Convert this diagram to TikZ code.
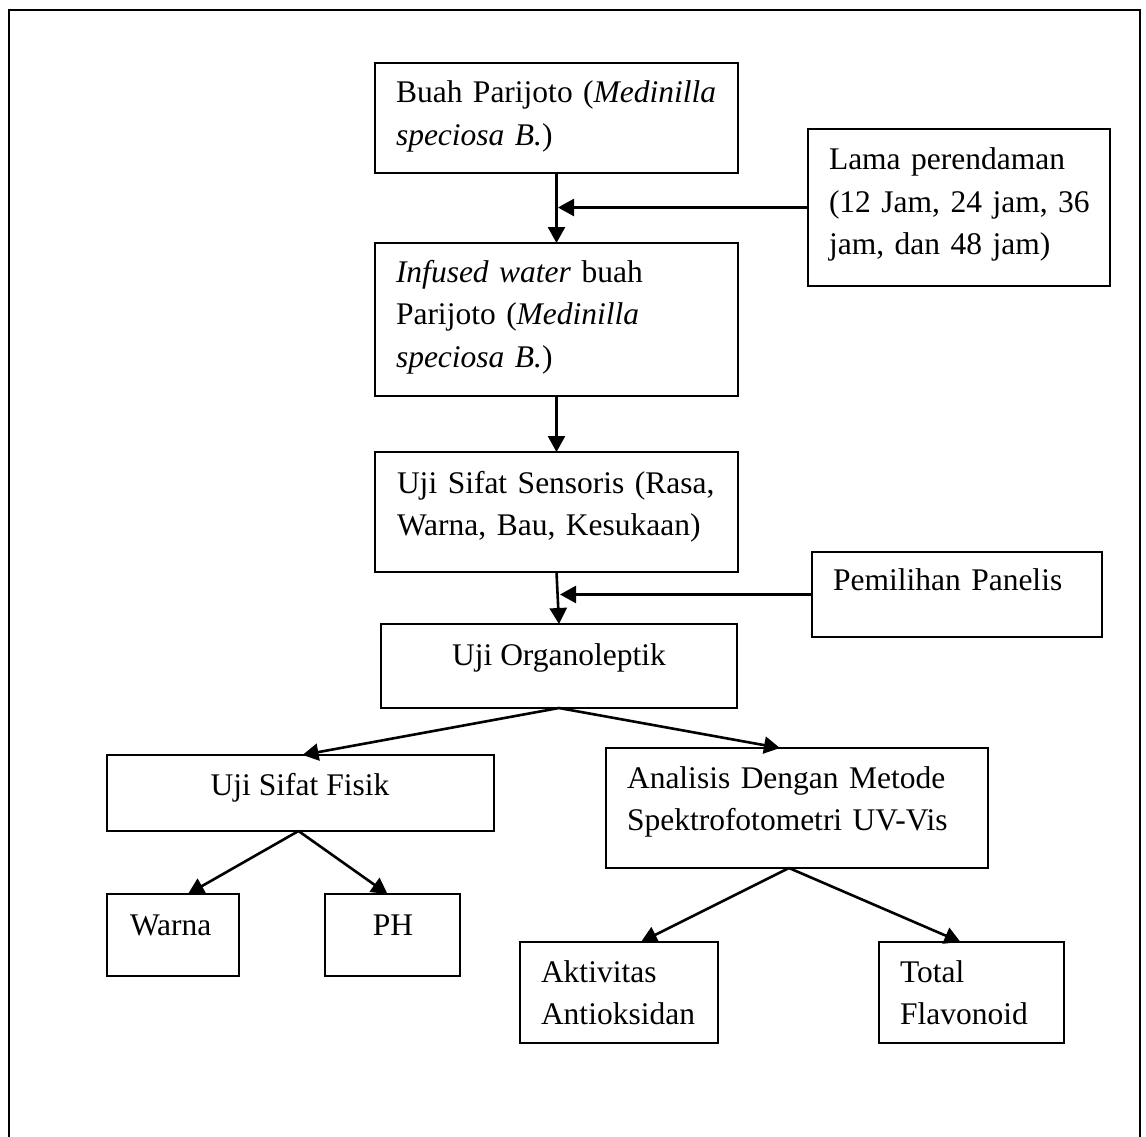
\documentclass[tikz,border=0pt]{standalone}
\usepackage{fontspec}
\setmainfont{Liberation Serif}
\usetikzlibrary{arrows.meta}
\begin{document}
\begin{tikzpicture}[x=1pt,y=-1pt,
  box/.style={draw, line width=1.8pt, inner sep=0pt, outer sep=0pt, anchor=north west},
  txt/.style={inner sep=0pt, outer sep=0pt, anchor=base west, align=left, text width=380pt,
    font=\fontsize{31.5}{42.5}\selectfont},
  ctxt/.style={inner sep=0pt, outer sep=0pt, anchor=base, font=\fontsize{31.5}{42.5}\selectfont},
  arr/.style={line width=2.6pt, -{Triangle[length=16pt,width=17pt]}}]
\useasboundingbox (0,0) rectangle (1146,1137);
% outer frame (bottom edge lies outside the picture)
\draw[line width=1.8pt] (9,1160) -- (9,10) -- (1140,10) -- (1140,1160);
% boxes
\node[box, minimum width=363pt, minimum height=110pt] (b1) at (375,63) {};
\node[box, minimum width=363pt, minimum height=153pt] (b2) at (375,243) {};
\node[box, minimum width=302pt, minimum height=157pt] (lama) at (808,129) {};
\node[box, minimum width=363pt, minimum height=120pt] (b3) at (375,452) {};
\node[box, minimum width=356pt, minimum height=84pt] (b4) at (381,624) {};
\node[box, minimum width=290pt, minimum height=85pt] (pem) at (812,552) {};
\node[box, minimum width=387pt, minimum height=76pt] (fis) at (107,755) {};
\node[box, minimum width=132pt, minimum height=82pt] (warna) at (107,894) {};
\node[box, minimum width=135pt, minimum height=82pt] (ph) at (325,894) {};
\node[box, minimum width=382pt, minimum height=120pt] (ana) at (606,748) {};
\node[box, minimum width=198pt, minimum height=101pt] (akt) at (520,942) {};
\node[box, minimum width=185pt, minimum height=101pt] (tot) at (879,942) {};
% texts
\node[txt] (t1) at (396,103) {Buah Parijoto (\textit{Medinilla}\\\textit{speciosa B.})};
\node[txt] (t2) at (396,282) {\textit{Infused water} buah\\Parijoto (\textit{Medinilla}\\\textit{speciosa B.})};
\node[txt] (tl) at (829,170) {Lama perendaman\\(12 Jam, 24 jam, 36\\jam, dan 48 jam)};
\node[txt] (t3) at (397,493) {Uji Sifat Sensoris (Rasa,\\Warna, Bau, Kesukaan)};
\node[ctxt] (t4) at (559,665) {Uji Organoleptik};
\node[txt] (tp) at (833,590) {Pemilihan Panelis};
\node[ctxt] (tf) at (300,795) {Uji Sifat Fisik};
\node[txt] (tw) at (130,935) {Warna};
\node[ctxt] (th) at (393,935) {PH};
\node[txt] (ta) at (627,788) {Analisis Dengan Metode\\Spektrofotometri UV-Vis};
\node[txt] (tk) at (541,982) {Aktivitas\\Antioksidan};
\node[txt] (tt) at (900,982) {Total\\Flavonoid};
% connectors
\coordinate (j1) at (558,207.5);
\coordinate (j2) at (560,594.5);
\draw[arr] (b1.south) -- (b2.north);
\draw[arr] (lama.west) -- (j1);
\draw[arr] (b2.south) -- (b3.north);
\draw[arr] (b3.south) -- (b4.north);
\draw[arr] (pem.west) -- (j2);
\draw[arr] (b4.south) -- ([xshift=2pt]fis.north);
\draw[arr] (b4.south) -- ([xshift=-17pt]ana.north);
\draw[arr] ([xshift=-2pt]fis.south) -- ([xshift=15pt]warna.north);
\draw[arr] ([xshift=-2pt]fis.south) -- ([xshift=-5pt]ph.north);
\draw[arr] ([xshift=-8pt]ana.south) -- ([xshift=22pt]akt.north);
\draw[arr] ([xshift=-8pt]ana.south) -- ([xshift=-11pt]tot.north);
\end{tikzpicture}
\end{document}
